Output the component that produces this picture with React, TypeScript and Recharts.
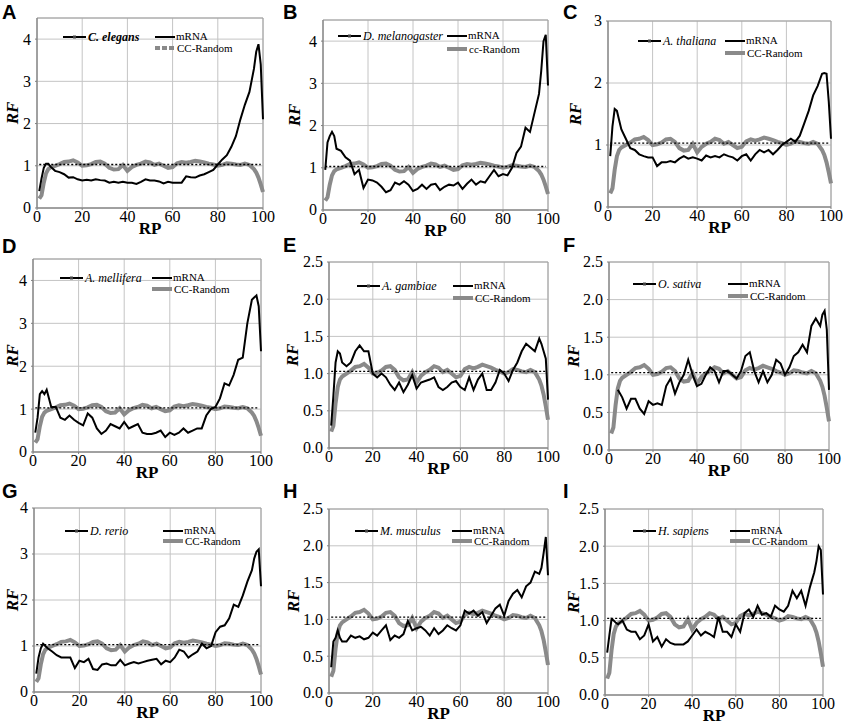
import React from 'react'
import { LineChart, Line, XAxis, YAxis, CartesianGrid, ReferenceLine, ReferenceArea } from 'recharts'

// relative position (RP) sample points shared by every panel
const rp = [
  1, 2, 3, 4, 5, 6,
  8, 10, 12, 14, 16, 18, 20, 22, 24, 26,
  28, 30, 32, 34, 36, 38, 40, 42, 44, 46,
  48, 50, 52, 54, 56, 58, 60, 62, 64, 66,
  68, 70, 72, 74, 76, 78, 80, 82, 84, 86,
  88, 90, 92, 94, 96, 97, 98, 99, 100,
]

// control curve, same in all species
const ccRandom = [
  0.22, 0.3, 0.6, 0.82, 0.92, 0.96,
  1.0, 1.04, 1.09, 1.1, 1.13, 1.08, 1.0, 1.01, 1.04, 1.09,
  1.1, 1.05, 0.95, 0.91, 0.92, 1.02, 0.88, 0.97, 1.02, 1.05,
  1.1, 1.08, 1.02, 1.05, 1.0, 0.95, 0.97, 1.06, 1.09, 1.07,
  1.09, 1.12, 1.1, 1.08, 1.05, 1.03, 1.0, 1.02, 1.06, 1.05,
  1.03, 1.02, 1.05, 1.02, 0.92, 0.84, 0.72, 0.56, 0.38,
]

const mrnaA = [
  0.4, 0.7, 0.95, 1.05, 1.05, 0.98,
  0.88, 0.85, 0.8, 0.72, 0.73, 0.68, 0.65, 0.67, 0.65, 0.68,
  0.66, 0.65, 0.6, 0.62, 0.6, 0.62, 0.6, 0.6, 0.57, 0.62,
  0.68, 0.65, 0.65, 0.63, 0.58, 0.62, 0.6, 0.6, 0.6, 0.75,
  0.73, 0.72, 0.77, 0.8, 0.85, 0.9, 1.03, 1.15, 1.25, 1.45,
  1.7, 2.1, 2.45, 2.75, 3.3, 3.7, 3.88, 3.4, 2.1,
]

const mrnaB = [
  0.95, 1.6, 1.75, 1.85, 1.75, 1.45,
  1.4, 1.25, 1.17, 0.85, 0.95, 0.52, 0.72, 0.7, 0.65, 0.55,
  0.42, 0.47, 0.65, 0.6, 0.68, 0.6, 0.45, 0.5, 0.6, 0.5,
  0.6, 0.62, 0.47, 0.55, 0.6, 0.58, 0.65, 0.5, 0.62, 0.72,
  0.6, 0.68, 0.65, 0.8, 0.95, 0.8, 0.85, 0.82, 1.0, 1.35,
  1.5, 1.95, 1.85, 2.3, 2.75, 3.3, 4.0, 4.15, 2.95,
]

const mrnaC = [
  0.82, 1.3, 1.58, 1.55, 1.4, 1.25,
  1.1, 0.95, 0.92, 0.85, 0.82, 0.8, 0.8, 0.66, 0.72, 0.72,
  0.74, 0.72, 0.78, 0.82, 0.78, 0.8, 0.78, 0.75, 0.83, 0.8,
  0.82, 0.8, 0.85, 0.82, 0.8, 0.75, 0.82, 0.85, 0.75, 0.85,
  0.92, 0.88, 0.92, 0.85, 0.92, 1.0, 1.05, 1.1, 1.05, 1.15,
  1.35, 1.55, 1.8, 1.95, 2.15, 2.16, 2.15, 1.7, 1.1,
]

const mrnaD = [
  0.45, 0.8, 1.35, 1.42, 1.35, 1.45,
  1.05, 1.05, 0.8, 0.75, 0.85, 0.75, 0.68, 0.62, 0.9, 0.8,
  0.55, 0.42, 0.5, 0.65, 0.6, 0.55, 0.7, 0.55, 0.6, 0.65,
  0.45, 0.42, 0.42, 0.45, 0.5, 0.35, 0.45, 0.4, 0.45, 0.55,
  0.45, 0.5, 0.55, 0.55, 0.85, 1.0, 1.05, 1.25, 1.6, 1.55,
  1.8, 2.15, 2.2, 3.0, 3.55, 3.6, 3.65, 3.4, 2.35,
]

const mrnaE = [
  0.3, 0.7, 1.15, 1.3, 1.27, 1.15,
  1.1, 1.15, 1.3, 1.38, 1.3, 1.3, 1.0, 0.95, 1.0, 0.95,
  0.85, 0.78, 0.88, 0.75, 0.85, 0.98, 0.8, 0.88, 0.9, 0.92,
  0.95, 0.82, 0.78, 0.82, 0.88, 0.9, 0.82, 0.78, 0.95, 0.78,
  0.92, 1.0, 0.78, 0.78, 0.88, 1.05, 1.0, 0.9, 1.05, 1.15,
  1.3, 1.4, 1.35, 1.3, 1.47, 1.4, 1.3, 1.2, 0.65,
]

const mrnaF = [
  null, null, null, 0.8, 0.75, 0.7,
  0.55, 0.68, 0.68, 0.55, 0.48, 0.65, 0.6, 0.62, 0.6, 0.85,
  0.95, 0.75, 0.9, 1.0, 1.2, 1.0, 0.85, 0.88, 1.0, 1.1,
  1.05, 0.9, 1.05, 1.05, 1.0, 0.95, 1.05, 1.25, 1.3, 1.05,
  0.9, 1.05, 0.9, 1.0, 1.2, 1.15, 1.0, 1.1, 1.25, 1.3,
  1.4, 1.3, 1.65, 1.75, 1.65, 1.8, 1.85, 1.6, 0.8,
]

const mrnaG = [
  0.4, 0.75, 0.95, 1.05, 1.0, 0.95,
  0.88, 0.8, 0.75, 0.75, 0.75, 0.52, 0.68, 0.65, 0.72, 0.5,
  0.48, 0.6, 0.62, 0.58, 0.58, 0.7, 0.58, 0.62, 0.65, 0.62,
  0.65, 0.68, 0.7, 0.72, 0.6, 0.68, 0.65, 0.75, 0.92, 0.88,
  0.75, 0.82, 0.88, 1.05, 0.95, 1.0, 1.3, 1.42, 1.45, 1.6,
  1.9, 1.85, 2.1, 2.4, 2.65, 2.9, 3.05, 3.1, 2.3,
]

const mrnaH = [
  0.35, 0.7, 0.75, 0.85, 0.75, 0.7,
  0.7, 0.78, 0.75, 0.77, 0.73, 0.75, 0.82, 0.78, 0.85, 0.92,
  0.72, 0.78, 0.75, 0.8, 0.98, 0.85, 0.88, 0.9, 0.85, 0.78,
  0.88, 0.8, 0.85, 0.92, 0.88, 0.85, 0.92, 1.12, 1.08, 1.12,
  1.05, 1.1, 0.95, 1.05, 1.15, 1.2, 1.05, 1.25, 1.35, 1.4,
  1.3, 1.45, 1.5, 1.65, 1.62, 1.7, 1.9, 2.12, 1.6,
]

const mrnaI = [
  0.57, 0.8, 1.02, 1.0, 0.97, 0.95,
  1.0, 0.88, 0.85, 0.85, 0.75, 0.8, 0.95, 0.72, 0.78, 0.65,
  0.75, 0.7, 0.68, 0.68, 0.68, 0.72, 0.8, 0.88, 0.8, 0.85,
  0.82, 0.78, 1.05, 0.85, 0.85, 0.78, 0.95, 0.85, 1.1, 1.15,
  1.05, 1.2, 1.08, 1.1, 1.05, 1.2, 1.15, 1.12, 1.2, 1.4,
  1.3, 1.4, 1.2, 1.45, 1.65, 1.8, 2.0, 1.95, 1.35,
]

const xTicks = [0, 20, 40, 60, 80, 100]
const ticksInt4 = [0, 1, 2, 3, 4]
const ticksInt3 = [0, 1, 2, 3]
const ticksHalf = [0, 0.5, 1, 1.5, 2, 2.5]
const baseline = 1.03

const SERIF = "'Liberation Serif', 'Times New Roman', serif"
const SANS = "'Liberation Sans', Arial, sans-serif"
const GRAY = '#8a8a8a'

type Panel = {
  letter: string
  species: string
  speciesBold?: boolean
  ccLabel: string
  mrna: (number | null)[]
  yMax: number
  yTicks: number[]
  decimals: boolean
  box: [number, number, number, number] // plot left, top, right, bottom
  rfX: number
  letterPos: [number, number]
  legend: [number, number, number, number] // species dx, dy, mrna dx, cc dy
}

const panels: Panel[] = [
  { letter: 'A', species: 'C. elegans', speciesBold: true, ccLabel: 'CC-Random', mrna: mrnaA, yMax: 4.5, yTicks: ticksInt4, decimals: false, box: [37, 18, 263, 208], rfX: 12, letterPos: [2, 19], legend: [26, 19, 118, 30] },
  { letter: 'B', species: 'D. melanogaster', ccLabel: 'cc-Random', mrna: mrnaB, yMax: 4.5, yTicks: ticksInt4, decimals: false, box: [323, 20, 548, 210], rfX: 294, letterPos: [283, 19], legend: [15, 16, 124, 29] },
  { letter: 'C', species: 'A. thaliana', ccLabel: 'CC-Random', mrna: mrnaC, yMax: 3, yTicks: ticksInt3, decimals: false, box: [608, 21, 831, 207], rfX: 575, letterPos: [563, 19], legend: [30, 20, 117, 32] },
  { letter: 'D', species: 'A. mellifera', ccLabel: 'CC-Random', mrna: mrnaD, yMax: 4.5, yTicks: ticksInt4, decimals: false, box: [33, 259, 261, 452], rfX: 12, letterPos: [2, 253], legend: [27, 19, 119, 30] },
  { letter: 'E', species: 'A. gambiae', ccLabel: 'CC-Random', mrna: mrnaE, yMax: 2.5, yTicks: ticksHalf, decimals: true, box: [329, 262, 548, 448], rfX: 292, letterPos: [283, 252], legend: [28, 24, 124, 36] },
  { letter: 'F', species: 'O. sativa', ccLabel: 'CC-Random', mrna: mrnaF, yMax: 2.5, yTicks: ticksHalf, decimals: true, box: [609, 262, 829, 450], rfX: 573, letterPos: [563, 252], legend: [24, 22, 119, 34] },
  { letter: 'G', species: 'D. rerio', ccLabel: 'CC-Random', mrna: mrnaG, yMax: 4, yTicks: ticksInt4, decimals: false, box: [34, 508, 261, 692], rfX: 12, letterPos: [2, 498], legend: [31, 23, 129, 33] },
  { letter: 'H', species: 'M. musculus', ccLabel: 'CC-Random', mrna: mrnaH, yMax: 2.5, yTicks: ticksHalf, decimals: true, box: [329, 509, 548, 693], rfX: 293, letterPos: [283, 498], legend: [26, 22, 123, 32] },
  { letter: 'I', species: 'H. sapiens', ccLabel: 'CC-Random', mrna: mrnaI, yMax: 2.5, yTicks: ticksHalf, decimals: true, box: [605, 509, 823, 695], rfX: 573, letterPos: [563, 498], legend: [28, 22, 125, 32] },
]

const AXIS_W = 45
const AXIS_H = 32
const PAD_T = 10
const PAD_R = 13

// axis tick with an inline serif style
function SerifTick(props: any) {
  const { x, y, payload, textAnchor, verticalAnchor, decimals } = props
  const v = Number(payload?.value)
  const label = decimals ? v.toFixed(1) : String(v)
  const dy = verticalAnchor === 'start' ? '0.72em' : '0.34em'
  return (
    <text x={x} y={y} dy={dy} textAnchor={textAnchor} fill="#000" style={{ fontFamily: SERIF, fontSize: 16 }}>
      {label}
    </text>
  )
}

function RFLabel(props: any) {
  const vb = props.viewBox || {}
  const cx = (vb.x ?? 0) + (vb.width ?? AXIS_W) - props.shift
  const cy = (vb.y ?? 0) + (vb.height ?? 0) / 2
  return (
    <text x={cx} y={cy} transform={`rotate(-90, ${cx}, ${cy})`} textAnchor="middle" dominantBaseline="central" fill="#000"
      style={{ fontFamily: SERIF, fontSize: 17, fontStyle: 'italic', fontWeight: 'bold' }}>RF</text>
  )
}

function RPLabel(props: any) {
  const vb = props.viewBox || {}
  const cx = (vb.x ?? 0) + (vb.width ?? 0) / 2
  const y = (vb.y ?? 0) + 26
  return (
    <text x={cx} y={y} textAnchor="middle" fill="#000" style={{ fontFamily: SERIF, fontSize: 17, fontWeight: 'bold' }}>RP</text>
  )
}

function PanelLegend({ p }: { p: Panel }) {
  const [sdx, sdy, mdx, cdy] = p.legend
  const [l, t] = p.box
  const mx = mdx - sdx
  const cy = 8 + cdy - sdy
  return (
    <svg style={{ position: 'absolute', left: l + sdx, top: t + sdy - 8, overflow: 'visible' }} width={200} height={30}>
      <line x1={0} y1={8} x2={23} y2={8} stroke="#000" strokeWidth={2} />
      <rect x={10} y={6.5} width={3} height={3} fill="#444" />
      <text x={25} y={12} style={{ fontFamily: SERIF, fontSize: 12, fontStyle: 'italic', fontWeight: p.speciesBold ? 'bold' : 'normal' }}>{p.species}</text>
      <line x1={mx} y1={8} x2={mx + 20} y2={8} stroke="#000" strokeWidth={2} />
      <text x={mx + 21} y={11} style={{ fontFamily: SERIF, fontSize: 11 }}>mRNA</text>
      <line x1={mx} y1={cy} x2={mx + 20} y2={cy} stroke={GRAY} strokeWidth={4} strokeDasharray={p.letter === 'A' ? '5 2' : undefined} />
      <text x={mx + 22} y={cy + 4} style={{ fontFamily: SERIF, fontSize: 11 }}>{p.ccLabel}</text>
    </svg>
  )
}

function SpeciesChart({ p }: { p: Panel }) {
  const [l, t, r, b] = p.box
  const data = rp.map((x, i) => ({ rp: x, mrna: p.mrna[i], cc: ccRandom[i] }))
  const width = r - l + AXIS_W + PAD_R
  const height = b - t + PAD_T + AXIS_H
  return (
    <>
      <div style={{ position: 'absolute', left: l - AXIS_W, top: t - PAD_T }}>
        <LineChart width={width} height={height} data={data} margin={{ top: PAD_T, right: PAD_R, left: 0, bottom: 0 }}>
          <CartesianGrid stroke="#c4c4c4" />
          <ReferenceArea x1={0} x2={100} y1={0} y2={p.yMax} fill="none" stroke="#a0a0a0" ifOverflow="extendDomain" />
          <XAxis dataKey="rp" type="number" domain={[0, 100]} ticks={xTicks} interval={0} height={AXIS_H}
            tickSize={2} tickMargin={0} axisLine={{ stroke: '#808080' }} tickLine={{ stroke: '#808080' }}
            tick={<SerifTick decimals={false} />} label={<RPLabel />} />
          <YAxis type="number" domain={[0, p.yMax]} ticks={p.yTicks} interval={0} width={AXIS_W}
            tickSize={2} tickMargin={4} axisLine={{ stroke: '#808080' }} tickLine={{ stroke: '#808080' }}
            tick={<SerifTick decimals={p.decimals} />} label={<RFLabel shift={l - p.rfX} />} />
          <Line dataKey="cc" stroke={GRAY} strokeWidth={4} dot={false} isAnimationActive={false} />
          <Line dataKey="mrna" stroke="#000" strokeWidth={2} dot={false} isAnimationActive={false} connectNulls={false} />
          <ReferenceLine segment={[{ x: 1, y: baseline }, { x: 99, y: baseline }]} stroke="#000" strokeWidth={1.3} strokeDasharray="2 2" />
        </LineChart>
      </div>
      <PanelLegend p={p} />
      <div style={{ position: 'absolute', left: p.letterPos[0], top: p.letterPos[1] - 17, fontFamily: SANS, fontWeight: 'bold', fontSize: 20, lineHeight: '20px' }}>
        {p.letter}
      </div>
    </>
  )
}

export default function App() {
  return (
    <div style={{ position: 'absolute', left: 0, top: 0, width: 844, height: 724, background: '#fff', overflow: 'hidden' }}>
      {panels.map((p) => (
        <SpeciesChart key={p.letter} p={p} />
      ))}
    </div>
  )
}
